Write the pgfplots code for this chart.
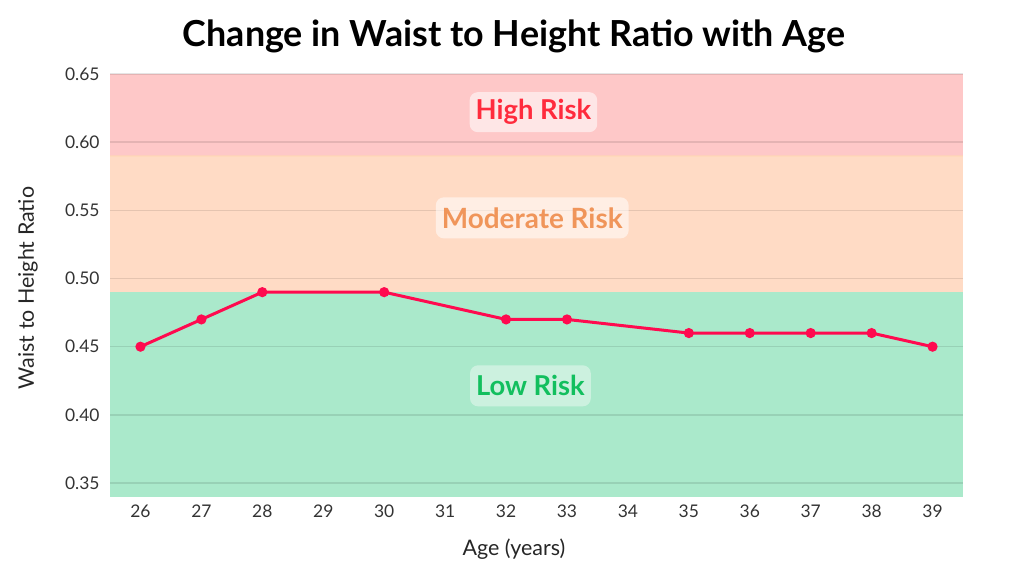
\documentclass[border=0pt]{standalone}
\usepackage{fontspec}
\setmainfont{Lato}
\usepackage{pgfplots}
\pgfplotsset{compat=1.18}
\definecolor{bandred}{HTML}{FEC8C8}
\definecolor{bandorange}{HTML}{FFDBC5}
\definecolor{bandgreen}{HTML}{AAE9CB}
\definecolor{linecol}{HTML}{FF0A4F}
\definecolor{txtred}{HTML}{FF2B3D}
\definecolor{txtorange}{HTML}{F0955A}
\definecolor{txtgreen}{HTML}{12BF5E}
\definecolor{ticktxt}{HTML}{333333}
\begin{document}
\begin{tikzpicture}
\begin{axis}[
  set layers=standard,
  at={(110bp,79.3bp)}, anchor=south west,
  width=853bp, height=422.7bp, scale only axis,
  xmin=25.5, xmax=39.5, ymin=0.34, ymax=0.65,
  axis line style={draw=none},
  major tick length=0pt,
  xtick={26,27,28,29,30,31,32,33,34,35,36,37,38,39},
  ytick={0.35,0.40,0.45,0.50,0.55,0.60,0.65},
  yticklabel style={/pgf/number format/fixed,/pgf/number format/fixed zerofill,/pgf/number format/precision=2},
  /pgf/number format/assume math mode=true,
  ticklabel style={font=\fontsize{17.5}{19}\selectfont, text=ticktxt},
  xticklabel style={yshift=-5bp},
  yticklabel style={xshift=-7bp},
  ymajorgrids,
  grid style={black, opacity=0.1, line width=1.4bp},
  clip=false,
]
\begin{pgfonlayer}{axis background}
\fill[bandgreen] (axis cs:25.5,0.34) rectangle (axis cs:39.5,0.49);
\fill[bandorange] (axis cs:25.5,0.49) rectangle (axis cs:39.5,0.59);
\fill[bandred] (axis cs:25.5,0.59) rectangle (axis cs:39.5,0.65);
\draw[white!70!orange, opacity=0.5, line width=1.5bp] (axis cs:25.5,0.59) -- (axis cs:39.5,0.59);
\end{pgfonlayer}
\addplot[color=linecol, line width=3bp, mark=*, mark size=3.5bp, mark options={fill=linecol, draw=linecol}] coordinates {
(26,0.45) (27,0.47) (28,0.49) (30,0.49) (32,0.47) (33,0.47) (35,0.46) (36,0.46) (37,0.46) (38,0.46) (39,0.45)
};
\node[fill=white, fill opacity=0.55, text opacity=1, rounded corners=8bp, text=txtred, font=\bfseries\fontsize{27.5}{29}\selectfont, inner xsep=6bp, minimum height=40bp] at (axis cs:32.45,0.622) {High Risk};
\node[fill=white, fill opacity=0.55, text opacity=1, rounded corners=8bp, text=txtorange, font=\bfseries\fontsize{28}{29}\selectfont, inner xsep=6bp, minimum height=41bp] at (axis cs:32.43,0.5445) {Moderate Risk};
\node[fill=white, fill opacity=0.4, text opacity=1, rounded corners=8bp, text=txtgreen, font=\bfseries\fontsize{27.5}{29}\selectfont, inner xsep=6bp, minimum height=41bp] at (axis cs:32.4,0.4213) {Low Risk};
\end{axis}
\begin{scope}[x=1bp,y=1bp]
\node[anchor=base,font=\bfseries\fontsize{36}{40}\selectfont] at (514,529) {Change in Waist to Height Ratio with Age};
\node[font=\fontsize{21.5}{24}\selectfont, text=black!85] at (514,27) {Age (years)};
\node[rotate=90, font=\fontsize{21.5}{24}\selectfont, text=black!85] at (28,288) {Waist to Height Ratio};
\pgfresetboundingbox
\path (0,0) rectangle (1024,576);
\end{scope}
\end{tikzpicture}
\end{document}
